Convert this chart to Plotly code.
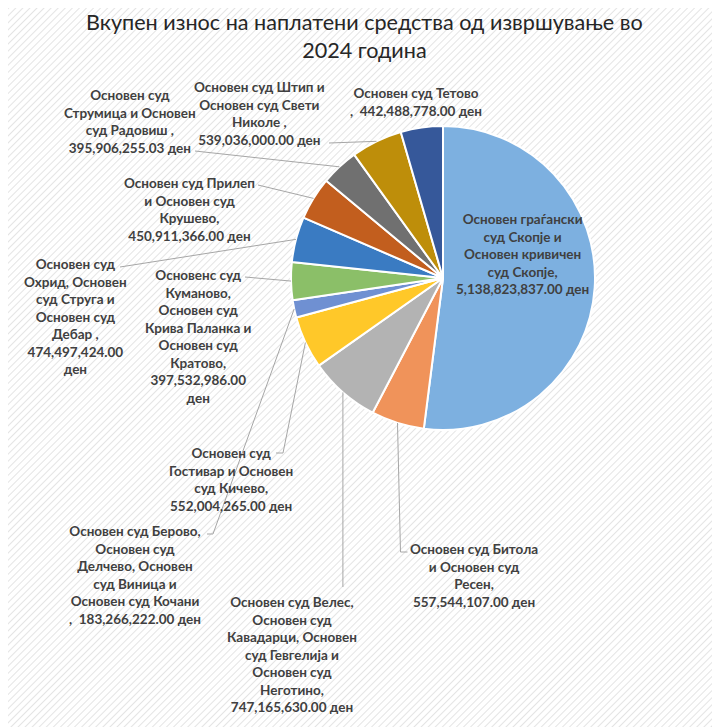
import numpy as np
import plotly.graph_objects as go
import base64

# ---------------- data ----------------
labels = [
    "Основен граѓански суд Скопје и Основен кривичен суд Скопје",
    "Основен суд Битола и Основен суд Ресен",
    "Основен суд Велес, Основен суд Кавадарци, Основен суд Гевгелија и Основен суд Неготино",
    "Основен суд Гостивар и Основен суд Кичево",
    "Основен суд Берово, Основен суд Делчево, Основен суд Виница и Основен суд Кочани",
    "Основенс суд Куманово, Основен суд Крива Паланка и Основен суд Кратово",
    "Основен суд Охрид, Основен суд Струга и Основен суд Дебар",
    "Основен суд Прилеп и Основен суд Крушево",
    "Основен суд Струмица и Основен суд Радовиш",
    "Основен суд Штип и Основен суд Свети Николе",
    "Основен суд Тетово",
]
values = [5138823837.00, 557544107.00, 747165630.00, 552004265.00, 183266222.00,
          397532986.00, 474497424.00, 450911366.00, 395906255.03, 539036000.00,
          442488778.00]
label_texts = [
    "Основен граѓански<br>суд Скопје и<br>Основен кривичен<br>суд Скопје,<br>5,138,823,837.00 ден",
    "Основен суд Битола<br>и Основен суд<br>Ресен,<br>557,544,107.00 ден",
    "Основен суд Велес,<br>Основен суд<br>Кавадарци, Основен<br>суд Гевгелија и<br>Основен суд<br>Неготино,<br>747,165,630.00 ден",
    "Основен суд<br>Гостивар и Основен<br>суд Кичево,<br>552,004,265.00 ден",
    "Основен суд Берово,<br>Основен суд<br>Делчево, Основен<br>суд Виница и<br>Основен суд Кочани<br>,  183,266,222.00 ден",
    "Основенс суд<br>Куманово,<br>Основен суд<br>Крива Паланка и<br>Основен суд<br>Кратово,<br>397,532,986.00<br>ден",
    "Основен суд<br>Охрид, Основен<br>суд Струга и<br>Основен суд<br>Дебар ,<br>474,497,424.00<br>ден",
    "Основен суд Прилеп<br>и Основен суд<br>Крушево,<br>450,911,366.00 ден",
    "Основен суд<br>Струмица и Основен<br>суд Радовиш ,<br>395,906,255.03 ден",
    "Основен суд Штип и<br>Основен суд Свети<br>Николе ,<br>539,036,000.00 ден",
    "Основен суд Тетово<br>,  442,488,778.00 ден",
]
title_text = "Вкупен износ на наплатени средства од извршување во<br>2024 година"

# ---------------- style / layout ----------------
colors = ["#7DB0E0", "#F0935A", "#B3B3B3", "#FFC829", "#6F90D2", "#8BBF68",
          "#3A7BC2", "#C25E1E", "#707070", "#BE8E0A", "#36589A"]
W, H = 720, 727
OFF = 8                              # page body margin
CX, CY, R = 443, 278, 152           # pie centre / radius in page pixels
label_pos = [(522, 254), (474, 575), (292, 654), (231, 480), (135, 575),
             (198, 336), (75, 316), (189, 209), (130, 121), (259, 114), (416, 102)]
line_ends = [None, "bitola", "veles", [(276, 453), (283, 453)], [(207, 534), (213, 534)],
             [(245, 277)], [(120, 267)], [(258, 185)], [(195, 151)], [(329, 143)], None]

FONT = "Lato"
TXT = "#404040"

def px2paper(x, y):
    return (x - OFF) / W, 1 - (y - OFF) / H

fig = go.Figure()
x0p, y1p = px2paper(CX - R, CY - R)
x1p, y0p = px2paper(CX + R, CY + R)
fig.add_trace(go.Pie(
    labels=labels, values=values, sort=False, direction="clockwise", rotation=0,
    marker=dict(colors=colors, line=dict(color="white", width=2)),
    textinfo="none", hoverinfo="label+value+percent", showlegend=False,
    domain=dict(x=[x0p, x1p], y=[y0p, y1p]),
))

vals = np.array(values)
cum = np.cumsum(vals) / vals.sum() * 360
mid = cum - vals / vals.sum() * 180
edge = [(CX + R * np.sin(np.radians(a)), CY - R * np.cos(np.radians(a))) for a in mid]

shapes = []
def seg(p, q):
    xa, ya = px2paper(*p); xb, yb = px2paper(*q)
    shapes.append(dict(type="line", xref="paper", yref="paper", x0=xa, y0=ya, x1=xb, y1=yb,
                       line=dict(color="#A6A6A6", width=1)))

for i, le in enumerate(line_ends):
    if le is None:
        continue
    e = edge[i]
    if le == "veles":
        seg(e, (e[0], 587))
    elif le == "bitola":
        seg(e, (e[0] + 3, 552)); seg((e[0] + 3, 552), (e[0] + 10, 552))
    else:
        pts = list(le) + [e]
        for a, b in zip(pts[:-1], pts[1:]):
            seg(a, b)

annotations = []
for t, (x, y) in zip(label_texts, label_pos):
    px, py = px2paper(x, y)
    annotations.append(dict(text=t, x=px, y=py, xref="paper", yref="paper",
                            xanchor="center", yanchor="middle", showarrow=False, align="center",
                            font=dict(family=FONT, size=13.5, color=TXT, weight="bold")))

tx, ty = px2paper(364, 36)
annotations.append(dict(text=title_text, x=tx, y=ty, xref="paper", yref="paper",
                        xanchor="center", yanchor="middle", showarrow=False, align="center",
                        font=dict(family=FONT, size=21.6, color="#262626")))

svg = ('<svg xmlns="http://www.w3.org/2000/svg" width="720" height="727">'
       '<defs><pattern id="p" width="5" height="5" patternUnits="userSpaceOnUse" '
       'patternTransform="rotate(45)"><rect width="5" height="5" fill="#ffffff"/>'
       '<line x1="0" y1="0" x2="0" y2="5" stroke="#e4e4e4" stroke-width="2"/></pattern></defs>'
       '<rect width="720" height="727" fill="url(#p)"/></svg>')
uri = "data:image/svg+xml;base64," + base64.b64encode(svg.encode()).decode()

fig.update_layout(
    width=W, height=H, margin=dict(l=0, r=0, t=0, b=0),
    paper_bgcolor="#f3f3f3", plot_bgcolor="#f3f3f3",
    shapes=shapes, annotations=annotations,
    images=[dict(source=uri, xref="paper", yref="paper", x=0, y=1, sizex=1, sizey=1,
                 xanchor="left", yanchor="top", sizing="stretch", layer="below")],
)
fig.write_html("out.html")
